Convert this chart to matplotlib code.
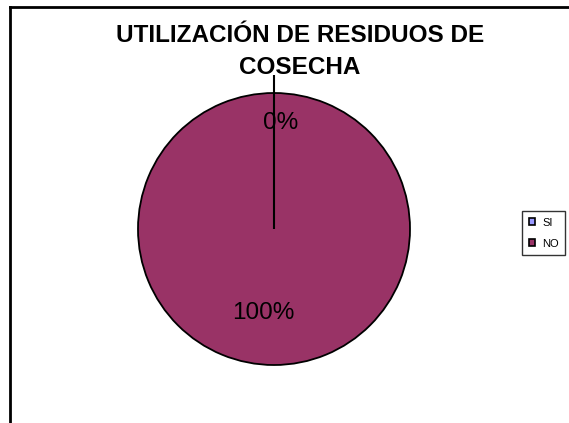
import matplotlib.pyplot as plt
from matplotlib.lines import Line2D
from matplotlib.patches import Patch

categories = ['SI', 'NO']
values = [0, 100]
colors = ['#9999FF', '#993366']
title_lines = ['UTILIZACIÓN DE RESIDUOS DE', 'COSECHA']

plt.rcParams['font.family'] = ['Liberation Sans', 'DejaVu Sans']

W, H = 569, 423
fig = plt.figure(figsize=(W / 100, H / 100), dpi=100)

# pie centred at (274, 229) px, radius 136 px
cx, cy, r = 274, 229, 136
half = 1.2 * r
ax = fig.add_axes([(cx - half) / W, (H - cy - half) / H, 2 * half / W, 2 * half / H])
wedges, texts, autotexts = ax.pie(values, colors=colors, startangle=90, counterclock=False,
                                  autopct='%1.0f%%', pctdistance=0.8,
                                  wedgeprops=dict(edgecolor='black', linewidth=1.3),
                                  textprops=dict(fontsize=17.5, color='black'))
ax.set_xlim(-1.2, 1.2)
ax.set_ylim(-1.2, 1.2)
ax.axis('off')
autotexts[0].set_position((0.05, 0.78))
autotexts[1].set_position((-0.08, -0.62))
# edge of the 0% slice plus its leader line
ax.plot([0, 0], [0, 1.13], color='black', lw=1.5, solid_capstyle='butt', zorder=5)

# chart area border (top and left visible)
fig.add_artist(Line2D([10 / W, 1], [1 - 7 / H, 1 - 7 / H], transform=fig.transFigure,
                      color='black', lw=2))
fig.add_artist(Line2D([10 / W, 10 / W], [0, 1 - 7 / H], transform=fig.transFigure,
                      color='black', lw=2))

fig.text(300 / W, 1 - 36 / H, title_lines[0], ha='center', va='center',
         fontsize=17.5, fontweight='bold')
fig.text(300 / W, 1 - 68 / H, title_lines[1], ha='center', va='center',
         fontsize=17.5, fontweight='bold')

handles = [Patch(facecolor=c, edgecolor='black', linewidth=1.2) for c in colors]
fig.legend(handles, categories, loc='upper left', bbox_to_anchor=(522 / W, 1 - 211 / H),
           fontsize=8, frameon=True, fancybox=False, edgecolor='black',
           handlelength=0.6, handleheight=0.6, handletextpad=0.6,
           borderpad=0.6, labelspacing=1.0, borderaxespad=0)

fig.savefig('out.png', dpi=100)
